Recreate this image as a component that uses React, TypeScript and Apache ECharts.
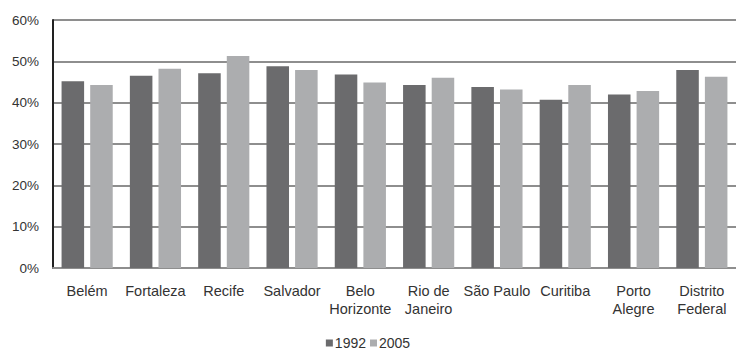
import React, { useEffect, useRef } from "react";
import * as echarts from "echarts";

// Cities and share (%) for each survey year
const cities = [
  "Belém",
  "Fortaleza",
  "Recife",
  "Salvador",
  "Belo\nHorizonte",
  "Rio de\nJaneiro",
  "São Paulo",
  "Curitiba",
  "Porto\nAlegre",
  "Distrito\nFederal",
];
const values1992 = [45.2, 46.5, 47.1, 48.8, 46.8, 44.3, 43.8, 40.7, 42.0, 47.9];
const values2005 = [44.3, 48.2, 51.3, 47.9, 44.9, 46.0, 43.2, 44.3, 42.8, 46.3];
const seriesNames = ["1992", "2005"];
const yMin = 0;
const yMax = 60;
const yStep = 10;

const FONT = "'Liberation Sans', Arial, sans-serif";
const DARK = "#6b6b6d";
const LIGHT = "#acadaf";
const GRID = "#8e8e8e";

export default function App() {
  const ref = useRef<HTMLDivElement>(null);

  useEffect(() => {
    if (!ref.current) return;
    const chart = echarts.init(ref.current, undefined, { renderer: "svg" });
    chart.setOption({
      animation: false,
      textStyle: { fontFamily: FONT },
      grid: { left: 53, top: 20, width: 685, bottom: 84, containLabel: false },
      legend: {
        data: seriesNames,
        top: 331,
        left: "center",
        icon: "rect",
        itemWidth: 7,
        itemHeight: 7,
        itemGap: 4,
        textStyle: { fontFamily: FONT, fontSize: 14, color: "#333", padding: [0, 0, 0, -3] },
      },
      xAxis: {
        type: "category",
        data: cities,
        axisLine: { show: true, lineStyle: { color: GRID, width: 2 } },
        axisTick: { show: false },
        axisLabel: {
          interval: 0,
          margin: 14,
          fontFamily: FONT,
          fontSize: 14.5,
          lineHeight: 18,
          color: "#333",
        },
      },
      yAxis: {
        type: "value",
        min: yMin,
        max: yMax,
        interval: yStep,
        axisLine: { show: true, lineStyle: { color: "#222", width: 2 } },
        axisTick: { show: false },
        splitLine: { show: true, lineStyle: { color: GRID, width: 2 } },
        axisLabel: {
          formatter: "{value}%",
          margin: 14,
          fontFamily: FONT,
          fontSize: 13.5,
          color: "#333",
        },
      },
      series: [
        {
          name: seriesNames[0],
          type: "bar",
          data: values1992,
          barWidth: "33%",
          barGap: "27%",
          itemStyle: { color: DARK },
        },
        {
          name: seriesNames[1],
          type: "bar",
          data: values2005,
          barWidth: "33%",
          barGap: "27%",
          itemStyle: { color: LIGHT },
        },
      ],
    });
    return () => chart.dispose();
  }, []);

  return (
    <div
      ref={ref}
      style={{ position: "absolute", left: 0, top: 0, width: 736, height: 352, background: "#fff" }}
    />
  );
}
